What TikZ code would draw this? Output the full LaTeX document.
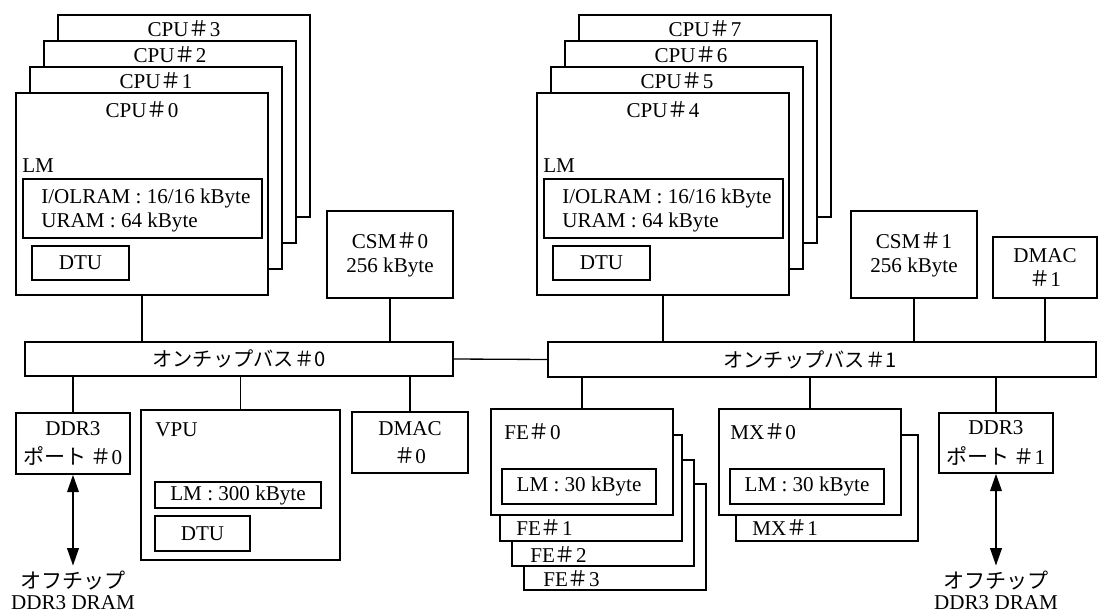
\documentclass[tikz,border=0pt]{standalone}
\usepackage{fontspec}
\setmainfont{Liberation Serif}
\newfontfamily\jp{Noto Sans CJK JP}
\usetikzlibrary{fit,arrows.meta}
\newcommand{\hsh}{{\jp ＃}}

\tikzset{
  blk/.style={draw,fill=white,line width=0.75pt,inner sep=0pt},
  txt/.style={inner sep=0pt,font=\fontsize{12}{13.5}\selectfont},
  jtxt/.style={inner sep=0pt,font=\jp\fontsize{11.5}{13}\selectfont},
  wire/.style={line width=0.75pt},
  offarr/.style={line width=1.4pt,{Triangle[length=10pt,width=6.5pt]}-{Triangle[length=10pt,width=6.5pt]}},
}

\begin{document}
\begin{tikzpicture}[x=0.02cm,y=-0.02cm]
  \useasboundingbox (0,0) rectangle (1100,612);
  \fill[white] (0,0) rectangle (1100,612);

  % --- CPU stacks (#0-#3 and #4-#7) ---
  \foreach \sx/\base in {0/0,521/4}{%
    \foreach \i in {3,2,1,0}{%
      \pgfmathtruncatemacro{\n}{\base+\i}
      \pgfmathsetmacro{\xa}{\sx+16+14*\i}
      \pgfmathsetmacro{\ya}{93-26*\i}
      \pgfmathsetmacro{\xb}{\xa+252}
      \pgfmathsetmacro{\yb}{\ya+202}
      \pgfmathsetmacro{\ly}{\ya+(\i==0 ? 17 : 14)}
      \node[blk,fit={(\xa,\ya) (\xb,\yb)}] (cpu\n) {};
      \node[txt] (cpulbl\n) at ({\xa+126},\ly) {CPU\hsh\n};
    }
    % local memory and DTU of the front CPU
    \node[txt,anchor=west] (lmlbl\base) at ({\sx+22},166) {LM};
    \node[blk,fit={({\sx+23},179) ({\sx+262},238)}] (lm\base) {};
    \node[txt,anchor=west,align=left] (lmtxt\base) at ({\sx+41},210.5)
      {I/OLRAM : 16/16 kByte\\URAM : 64 kByte};
    \node[blk,fit={({\sx+32},246) ({\sx+129},280)}] (dtu\base) {};
    \node[txt] (dtutxt\base) at (dtu\base) {DTU};
  }

  % --- Shared memories, DMAC #1 ---
  \node[blk,fit={(327,211) (453,298)}] (csm0) {};
  \node[txt,align=center] (csmtxt0) at (csm0) {CSM\hsh0\\256 kByte};
  \node[blk,fit={(851,211) (977,298)}] (csm1) {};
  \node[txt,align=center] (csmtxt1) at (csm1) {CSM\hsh1\\256 kByte};
  \node[blk,fit={(993,237) (1097,298)}] (dmac1) {};
  \node[txt,align=center] (dmactxt1) at (dmac1) {DMAC\\\hsh1};

  % --- On-chip buses ---
  \node[blk,fit={(25,342) (453,376)}] (bus0) {};
  \node[jtxt] (bustxt0) at (bus0) {オンチップバス＃0};
  \node[blk,fit={(548,342) (1096,377)}] (bus1) {};
  \node[jtxt] (bustxt1) at (810,359.5) {オンチップバス＃1};

  % --- Bus #0 side ---
  \node[blk,fit={(16,413) (130,474)}] (port0) {};
  \node[txt,align=center,font=\fontsize{12}{17}\selectfont] (porttxt0) at (port0) {DDR3\\{\jp ポート}\,\hsh0};
  \node[blk,fit={(141,410) (340,560)}] (vpu) {};
  \node[txt,anchor=west] (vpulbl) at (155,430) {VPU};
  \node[blk,fit={(155,482) (321,508)}] (vpulm) {};
  \node[txt] (vpulmtxt) at (vpulm) {LM : 300 kByte};
  \node[blk,fit={(155,516) (250,551)}] (vpudtu) {};
  \node[txt] (vpudtutxt) at (vpudtu) {DTU};
  \node[blk,fit={(352,412) (468,473)}] (dmac0) {};
  \node[txt,align=center,font=\fontsize{12}{16}\selectfont] (dmactxt0) at (dmac0) {DMAC\\\hsh0};

  % --- Bus #1 side: FE stack ---
  \foreach \i/\xa/\ya/\lx/\lyy in {3/524/484/543/579,2/512/460/530/555,1/500/435/516/528}{%
    \node[blk,fit={(\xa,\ya) ({\xa+182},{\ya+106})}] (fe\i) {};
    \node[txt,anchor=west] (felbl\i) at (\lx,\lyy) {FE\hsh\i};
  }
  \node[blk,fit={(491,409) (673,515)}] (fe0) {};
  \node[txt,anchor=west] (felbl0) at (504,432) {FE\hsh0};
  \node[blk,fit={(502,469) (656,504)}] (felm) {};
  \node[txt] (felmtxt) at (felm) {LM : 30 kByte};

  % --- MX stack ---
  \node[blk,fit={(736,435) (918,541)}] (mx1) {};
  \node[txt,anchor=west] (mxlbl1) at (752,528) {MX\hsh1};
  \node[blk,fit={(719,409) (901,515)}] (mx0) {};
  \node[txt,anchor=west] (mxlbl0) at (730,432) {MX\hsh0};
  \node[blk,fit={(730,469) (884,504)}] (mxlm) {};
  \node[txt] (mxlmtxt) at (mxlm) {LM : 30 kByte};

  \node[blk,fit={(939,413) (1053,473)}] (port1) {};
  \node[txt,align=center,font=\fontsize{12}{17}\selectfont] (porttxt1) at (port1) {DDR3\\{\jp ポート}\,\hsh1};

  % --- Off-chip DRAM ---
  \node[txt,align=center,anchor=north] (off0) at (73,571)
    {{\jp オフチップ}\\[-2pt]DDR3 DRAM};
  \node[txt,align=center,anchor=north] (off1) at (996,571)
    {{\jp オフチップ}\\[-2pt]DDR3 DRAM};

  % --- Connections ---
  \foreach \u in {cpu0,csm0}
    \draw[wire] (\u.south) -- (\u.south |- bus0.north);
  \foreach \u in {cpu4,csm1,dmac1}
    \draw[wire] (\u.south) -- (\u.south |- bus1.north);
  \foreach \d in {port0,vpu,dmac0}
    \draw[wire] (bus0.south -| \d.north) -- (\d.north);
  \foreach \d in {fe0,mx0,port1}
    \draw[wire] (bus1.south -| \d.north) -- (\d.north);
  \draw[wire] (bus0.east) -- (bus1.west);
  \draw[offarr] (port0.south) -- ([yshift=3pt]off0.north);
  \draw[offarr] (port1.south) -- ([yshift=3pt]off1.north);
\end{tikzpicture}
\end{document}
